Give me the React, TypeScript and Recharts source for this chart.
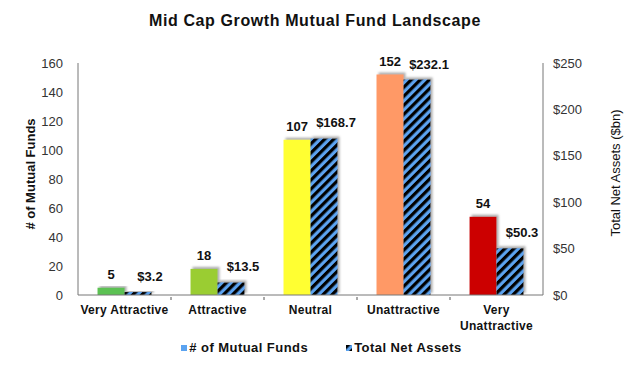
import React from "react";
import { BarChart, Bar, XAxis, YAxis, Legend, Cell, LabelList } from "recharts";

const categories = ["Very Attractive", "Attractive", "Neutral", "Unattractive", "Very Unattractive"];
const fundCounts = [5, 18, 107, 152, 54];
const netAssets = [3.2, 13.5, 168.7, 232.1, 50.3];
const categoryColors = ["#5cc152", "#9acd32", "#ffff33", "#ff9966", "#cc0000"];
const leftTicks = [0, 20, 40, 60, 80, 100, 120, 140, 160];
const rightTicks = [0, 50, 100, 150, 200, 250];

const data = categories.map((name, i) => ({
  name,
  funds: fundCounts[i],
  assets: netAssets[i],
}));

const FONT = "'Liberation Sans', Arial, sans-serif";

function CategoryTick(props: any) {
  const { x, y, payload, index } = props;
  const words: string[] = String(payload.value).split(" ");
  const lines = words.length > 1 && payload.value.length > 15 ? words : [payload.value];
  const half = payload.offset;
  return (
    <g>
      {index > 0 && half ? (
        <line x1={x - half} x2={x - half} y1={y - 6} y2={y - 3} stroke="#555" strokeWidth={1} />
      ) : null}
      <text x={x} y={y + 11} textAnchor="middle" fontFamily={FONT} fontSize={12} fontWeight="bold" fill="#111" letterSpacing={0.3}>
        {lines.map((ln, i) => (
          <tspan key={i} x={x} dy={i === 0 ? 0 : 16}>
            {ln}
          </tspan>
        ))}
      </text>
    </g>
  );
}

function AssetLabel(props: any) {
  const { x, y, width, value } = props;
  return (
    <text x={x + width / 2 + 12} y={y - 11} textAnchor="middle" fontFamily={FONT} fontSize={13} fontWeight="bold" fill="#111">
      {`$${Number(value).toFixed(1)}`}
    </text>
  );
}

function CountLabel(props: any) {
  const { x, y, width, value } = props;
  return (
    <text x={x + width / 2} y={y - 9} textAnchor="middle" fontFamily={FONT} fontSize={13} fontWeight="bold" fill="#111">
      {value}
    </text>
  );
}

function LegendContent() {
  const item = { display: "flex", alignItems: "center", gap: 2 } as const;
  return (
    <div style={{ display: "flex", justifyContent: "center", gap: 38, fontFamily: FONT, fontSize: 13, fontWeight: "bold", color: "#111", letterSpacing: 0.45 }}>
      <div style={item}>
        <svg width={6} height={6}>
          <rect width={6} height={6} fill="#5ba3f0" />
        </svg>
        <span># of Mutual Funds</span>
      </div>
      <div style={item}>
        <svg width={6} height={6}>
          <rect width={6} height={6} fill="url(#hatch)" />
        </svg>
        <span>Total Net Assets</span>
      </div>
    </div>
  );
}

export default function App() {
  return (
    <div style={{ position: "absolute", left: 0, top: 0, width: 630, height: 368, background: "#fff" }}>
      <div style={{ position: "absolute", top: 12, left: 0, width: 630, textAlign: "center", fontFamily: FONT, fontSize: 16, fontWeight: "bold", color: "#111", letterSpacing: 0.6 }}>
        Mid Cap Growth Mutual Fund Landscape
      </div>
      <BarChart
        width={630}
        height={368}
        data={data}
        margin={{ top: 63, right: 7, left: 20, bottom: 6 }}
        barCategoryGap="21%"
        barGap={0}
      >
        <defs>
          <pattern id="hatch" patternUnits="userSpaceOnUse" width={6.4} height={6.4} patternTransform="rotate(45)">
            <rect width={6.4} height={6.4} fill="#5ba3f0" />
            <rect width={3.2} height={6.4} fill="#000" />
          </pattern>
          <filter id="shadow" x="-20%" y="-20%" width="140%" height="140%">
            <feDropShadow dx={2} dy={-2} stdDeviation={1.2} floodColor="#777" floodOpacity={0.6} />
          </filter>
        </defs>
        <XAxis
          dataKey="name"
          height={45}
          tick={<CategoryTick />}
          tickLine={false}
          axisLine={{ stroke: "#777" }}
          interval={0}
        />
        <YAxis
          yAxisId="left"
          orientation="left"
          width={58}
          domain={[0, 160]}
          ticks={leftTicks}
          tickLine={false}
          axisLine={{ stroke: "#777" }}
          tickMargin={9}
          tick={{ fontFamily: FONT, fontSize: 13, fill: "#333" }}
          label={{ value: "# of Mutual Funds", angle: -90, position: "center", dx: -19, dy: -5, style: { fontFamily: FONT, fontSize: 13, fontWeight: "bold", fill: "#111" } }}
        />
        <YAxis
          yAxisId="right"
          orientation="right"
          width={80}
          domain={[0, 250]}
          ticks={rightTicks}
          tickLine={false}
          axisLine={{ stroke: "#777" }}
          tickMargin={4}
          tickFormatter={(v: number) => `$${v}`}
          tick={{ fontFamily: FONT, fontSize: 13, fill: "#333" }}
          label={{ value: "Total Net Assets ($bn)", angle: -90, position: "center", dx: 32, dy: -6, style: { fontFamily: FONT, fontSize: 13, fill: "#111" } }}
        />
        <Legend verticalAlign="bottom" height={22} content={<LegendContent />} />
        <Bar yAxisId="left" dataKey="funds" name="# of Mutual Funds" fill="#5ba3f0" filter="url(#shadow)" isAnimationActive={false}>
          {data.map((d, i) => (
            <Cell key={d.name} fill={categoryColors[i]} />
          ))}
          <LabelList dataKey="funds" content={<CountLabel />} />
        </Bar>
        <Bar yAxisId="right" dataKey="assets" name="Total Net Assets" fill="url(#hatch)" filter="url(#shadow)" isAnimationActive={false}>
          <LabelList dataKey="assets" content={<AssetLabel />} />
        </Bar>
      </BarChart>
    </div>
  );
}
